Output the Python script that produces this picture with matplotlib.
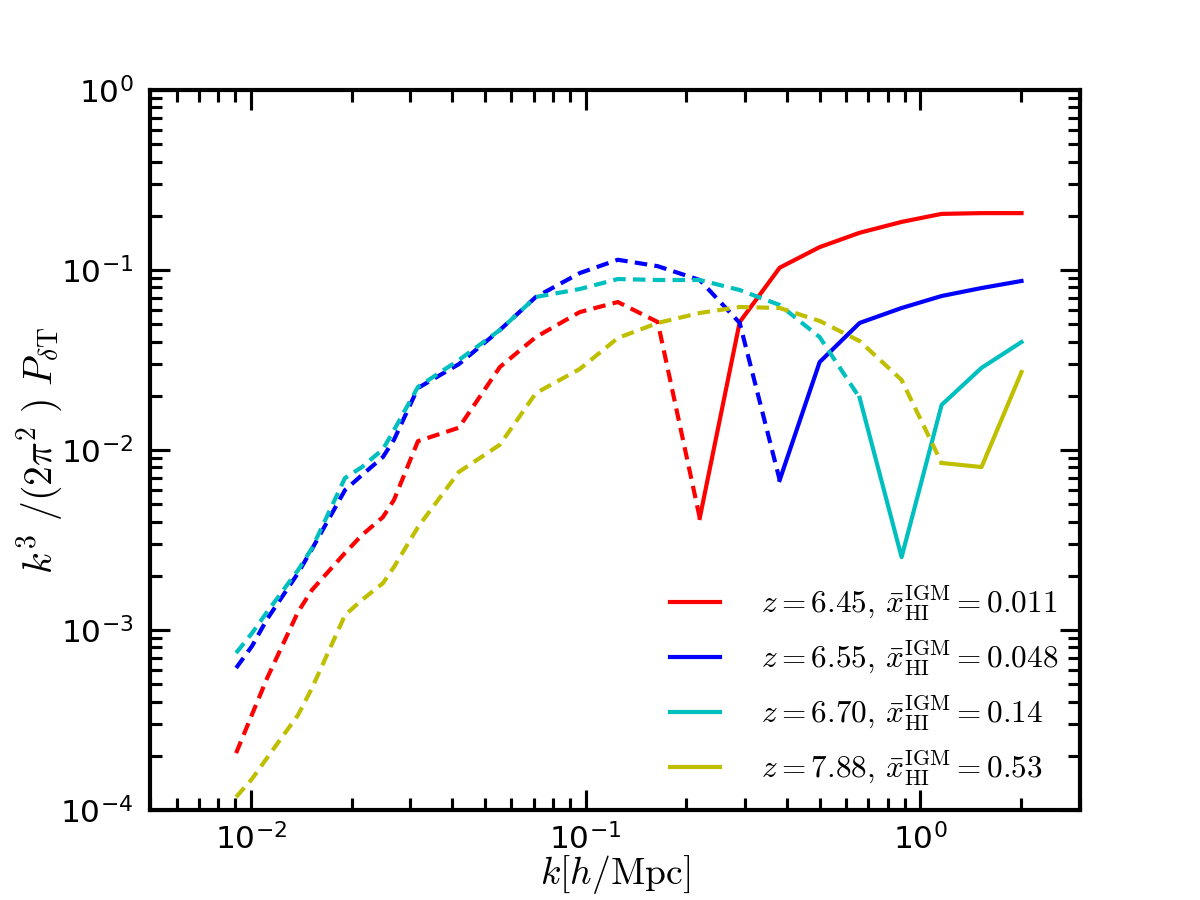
import numpy as np
import matplotlib
matplotlib.use("Agg")
import matplotlib.pyplot as plt
from matplotlib.font_manager import FontProperties

# k bins [h/Mpc]
k = [0.00904, 0.01009, 0.01119, 0.01384, 0.01524, 0.01912, 0.02149, 0.02482,
     0.02678, 0.03158, 0.04184, 0.05548, 0.07106, 0.09616, 0.1249, 0.1643,
     0.2194, 0.2888, 0.3802, 0.5005, 0.6589, 0.8794, 1.158, 1.524, 2.006]

# negative values -> dashed (plotted as |P|), positive -> solid
p_z645 = [-2.07e-4, -3.4e-4, -5.4e-4, -1.26e-3, -1.67e-3, -2.68e-3, -3.37e-3, -4.24e-3,
          -5.28e-3, -1.12e-2, -1.33e-2, -2.89e-2, -4.24e-2, -5.84e-2, -6.64e-2, -5.14e-2,
          4.19e-3, 5.14e-2, 0.103, 0.134, 0.161, 0.185, 0.205, 0.207, 0.207]
p_z655 = [-6.15e-4, -8.15e-4, -1.15e-3, -2.07e-3, -2.82e-3, -5.99e-3, -7.26e-3, -9.14e-3,
          -1.14e-2, -2.21e-2, -3.0e-2, -4.64e-2, -7.08e-2, -9.62e-2, -0.114, -0.105,
          -0.088, -0.0508, 6.81e-3, 3.08e-2, 5.08e-2, 6.15e-2, 7.17e-2, 7.94e-2, 8.69e-2]
p_z670 = [-7.45e-4, -9.62e-4, -1.26e-3, -2.15e-3, -2.85e-3, -6.99e-3, -8.04e-3, -1.01e-2,
          -1.29e-2, -2.24e-2, -3.16e-2, -4.64e-2, -7.08e-2, -7.84e-2, -8.91e-2, -8.8e-2,
          -8.8e-2, -7.74e-2, -6.39e-2, -4.24e-2, 1.95e-2, 2.54e-3, 1.78e-2, 2.86e-2, 3.98e-2]
p_z788 = [-1.18e-4, -1.49e-4, -1.95e-4, -3.37e-4, -4.76e-4, -1.21e-3, -1.47e-3, -1.82e-3,
          -2.24e-3, -3.73e-3, -7.55e-3, -1.07e-2, -2.07e-2, -2.82e-2, -4.19e-2, -5.08e-2,
          -5.77e-2, -6.23e-2, -6.15e-2, -5.21e-2, -4.03e-2, -2.45e-2, 8.47e-3, 8.04e-3, 2.71e-2]

series = [p_z645, p_z655, p_z670, p_z788]
colors = ['r', 'b', 'c', 'y']
labels = [r'$z=6.45,\,\bar{x}_{\rm HI}^{\rm IGM}=0.011$',
          r'$z=6.55,\,\bar{x}_{\rm HI}^{\rm IGM}=0.048$',
          r'$z=6.70,\,\bar{x}_{\rm HI}^{\rm IGM}=0.14$',
          r'$z=7.88,\,\bar{x}_{\rm HI}^{\rm IGM}=0.53$']


def main():
    plt.rcParams['lines.scale_dashes'] = False
    fig = plt.figure(figsize=(8, 6), dpi=150)
    ax = fig.add_axes([0.125, 0.1, 0.775, 0.8])

    kk = np.array(k)
    for vals, c, lab in zip(series, colors, labels):
        v = np.array(vals)
        s = int(np.argmax(v > 0))
        ax.plot(kk[:s + 1], np.abs(v[:s + 1]), color=c, lw=2, ls='--', dashes=(6, 3.5))
        ax.plot(kk[s:], v[s:], color=c, lw=2, label=lab)

    ax.set_xscale('log')
    ax.set_yscale('log')
    ax.set_xlim(5e-3, 3)
    ax.set_ylim(1e-4, 1)

    for sp in ax.spines.values():
        sp.set_linewidth(2)
    ax.tick_params(which='both', direction='in', top=True, right=True, width=1.5,
                   labelsize=15, pad=8)
    ax.tick_params(axis='x', which='both', pad=6)
    ax.tick_params(which='major', length=9.6)
    ax.tick_params(which='minor', length=5.8)

    ax.set_xlabel(r'$k[h/{\rm Mpc}]$', fontsize=18, math_fontfamily='cm', labelpad=-1)
    ax.set_ylabel(r'$k^3\ /(2\pi^2\ )\ P_{\delta {\rm T}}$', fontsize=19,
                  math_fontfamily='cm', labelpad=-2)

    leg_font = FontProperties(size=15, math_fontfamily='cm')
    ax.legend(loc='lower right', frameon=False, prop=leg_font, handlelength=1.6,
              handletextpad=1.3, labelspacing=0.5, borderaxespad=0.3)

    fig.savefig('out.png', dpi=150)


if __name__ == '__main__':
    main()
